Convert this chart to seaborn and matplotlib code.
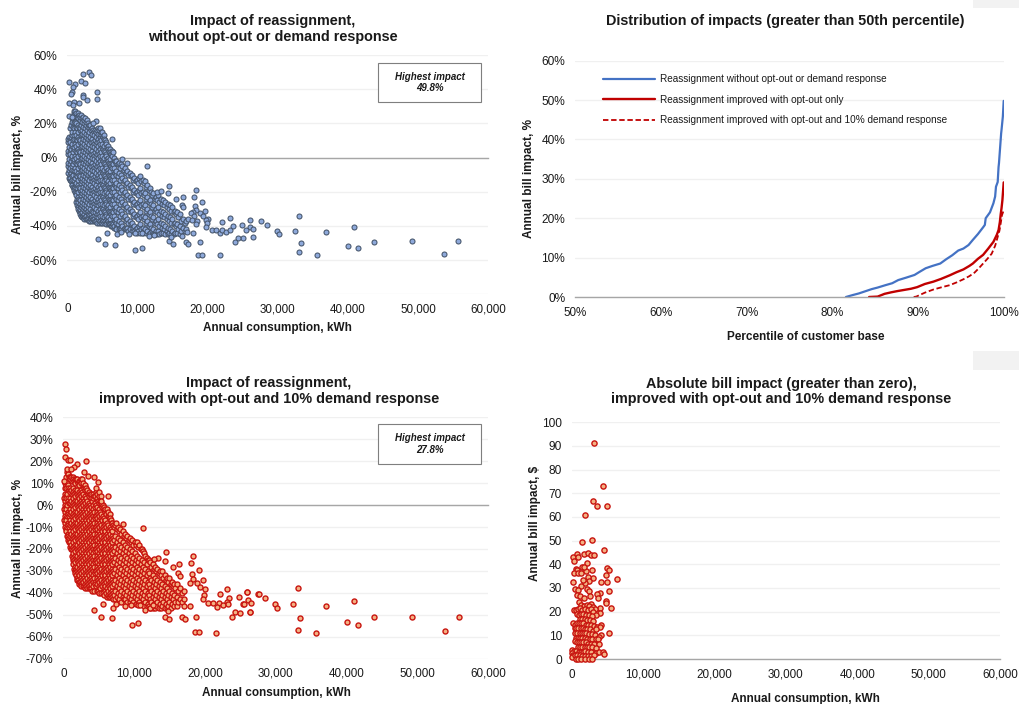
import pandas as pd
import matplotlib
matplotlib.use('Agg')
import matplotlib.pyplot as plt
from matplotlib.patches import Rectangle
import seaborn as sns

sns.set_style("white")
plt.rcParams['font.family'] = ['Liberation Sans', 'DejaVu Sans']

# --- DATA: consumption kWh, bill impact ---
# top left panel, scattered points
sparse_a = [(2290,49),(3100,49.8),(3380,48.3),(240,44.4),(2000,44.6),(2570,43.5),(1140,43.3),(810,41.3),(4290,38.2),(620,38.4),
(480,37.4),(2190,36.6),(2290,35.3),(2860,33.5),(4190,34.3),(290,32.2),(950,32.7),(1710,32.2),(860,31),(240,24.4),(620,23.8),
(4100,21.4),(3620,20.3),(6330,10.9),(7810,-1),(8570,-2.9),(11380,-5),(14570,-16.8),(12860,-20.3),(13430,-19.5),(14430,-20.7),
(15520,-24.2),(16430,-23),(18330,-18.7),(18100,-22.8),(19240,-26),(16290,-27.7),(16480,-29.2),(18240,-28.3),(19710,-31),
(18950,-32.2),(18380,-30.4),(17900,-31.6),(17620,-32.7),(18000,-33.9),(19290,-34.3),(20100,-35.7),(19810,-36.3),(17190,-35.9),
(17760,-36.6),(18480,-37),(18290,-39),(19900,-38.2),(19760,-40.5),(17900,-43.9),(17140,-43.7),(20570,-42.3),(21240,-42.3),
(21810,-44.4),(22100,-37.8),(22050,-42.1),(22570,-43.7),(23140,-42.1),(23620,-40.2),(23140,-35.1),(24860,-39.3),(26050,-36.5),
(27670,-37.1),(28480,-39.3),(26100,-40.7),(25500,-42.4),(26520,-41.9),(29950,-43),(30240,-44.8),(25100,-47),(26430,-46.2),
(24330,-47),(23950,-49.5),(33100,-34.2),(32480,-42.8),(33380,-49.7),(33100,-55.4),(35660,-57.2),(36950,-43.4),(40000,-51.9),
(40950,-40.9),(41470,-53.1),(43800,-49.3),(49140,-48.7),(53750,-56.2),(55700,-48.7),(4380,-47.4),(5330,-50.5),(5620,-43.9),
(6810,-50.9),(7050,-45),(7620,-43.5),(8860,-44.8),(9620,-53.8),(10710,-52.8),(9670,-44),(10620,-44),(11710,-46),(12380,-45.4),
(14480,-49.1),(15050,-50.3),(14860,-46.4),(16330,-46),(16860,-49.3),(17240,-50.5),(18860,-49.5),(18620,-57.3),(19140,-57.1),
(21710,-57.3)]

# top left panel, dense cloud: consumption, then the impacts seen around it
cloud_a = [(80,[9,2,-5]),(170,[11,4,-3,-9]),(260,[12,6,-1,-7,-12]),(360,[10,3,-4,-10,-13]),(450,[17,9,2,-6,-12]),
(540,[19,12,5,-2,-9,-14]),(640,[21,13,7,0,-7,-13,-16]),(730,[23,15,8,1,-5,-11,-16]),(820,[24,18,10,3,-4,-10,-17]),
(920,[26,17,11,5,-2,-8,-14,-18]),(1010,[27,20,13,6,-1,-7,-13,-19]),(1110,[27,21,15,8,1,-6,-12,-17,-20]),
(1200,[25,18,11,4,-3,-10,-16,-21]),(1300,[26,20,13,7,0,-8,-15,-22,-26]),(1400,[24,17,10,3,-4,-11,-18,-24,-28]),
(1490,[26,19,12,5,-2,-9,-16,-23,-29]),(1590,[23,15,8,1,-6,-13,-20,-26,-30]),(1680,[25,18,11,4,-3,-10,-17,-24,-31]),
(1780,[22,16,9,2,-5,-12,-19,-27,-32]),(1870,[24,17,10,3,-4,-11,-18,-25,-30,-33]),(1970,[25,19,13,6,-1,-8,-15,-22,-29,-34]),
(2060,[21,14,7,0,-7,-14,-21,-28,-33]),(2160,[23,16,9,2,-5,-12,-19,-26,-32,-35]),(2250,[24,18,11,4,-3,-10,-17,-24,-30,-34]),
(2350,[20,13,6,-1,-8,-15,-22,-29,-35]),(2440,[22,15,8,1,-6,-13,-20,-27,-33,-36]),(2540,[23,17,10,3,-4,-11,-18,-25,-31,-35]),
(2630,[19,12,5,-2,-9,-16,-23,-30,-36]),(2730,[21,14,7,0,-7,-14,-21,-28,-34]),(2820,[22,16,9,2,-5,-12,-19,-26,-32,-36]),
(2920,[18,11,4,-3,-10,-17,-24,-31,-35]),(3010,[20,13,6,-1,-8,-15,-22,-29,-36]),(3110,[19,15,8,1,-6,-13,-20,-27,-33,-37]),
(3200,[17,10,3,-4,-11,-18,-25,-32,-36]),(3300,[19,12,5,-2,-9,-16,-23,-30,-37]),(3400,[16,9,2,-5,-12,-19,-26,-33,-36]),
(3490,[17,11,4,-3,-10,-17,-24,-31,-37]),(3590,[14,7,0,-7,-14,-21,-28,-35]),(3680,[16,9,2,-5,-12,-19,-26,-32,-36]),
(3780,[15,8,1,-6,-13,-20,-27,-34,-37]),(3870,[13,6,-1,-8,-15,-22,-29,-36]),(3970,[16,10,3,-4,-11,-18,-25,-32,-37]),
(4060,[15,8,1,-6,-13,-20,-27,-34]),(4160,[12,5,-2,-9,-16,-23,-30,-37]),(4250,[16,9,2,-5,-12,-19,-26,-33,-38]),
(4350,[17,11,4,-3,-10,-17,-24,-31,-36]),(4440,[14,7,0,-7,-14,-21,-28,-35]),(4540,[16,9,2,-5,-12,-19,-26,-33,-38]),
(4630,[17,12,5,-2,-9,-16,-23,-30,-37]),(4730,[14,8,1,-6,-13,-20,-27,-34]),(4820,[15,10,3,-4,-11,-18,-25,-32,-38]),
(4920,[13,6,-1,-8,-15,-22,-29,-36]),(5010,[15,8,1,-6,-13,-20,-27,-34,-38]),(5110,[12,5,-2,-9,-16,-23,-30,-37]),
(5200,[13,7,0,-7,-14,-21,-28,-35]),(5300,[11,4,-3,-10,-17,-24,-31,-38]),(5390,[10,3,-4,-11,-18,-25,-32,-37]),
(5490,[9,2,-5,-12,-19,-26,-33,-38]),(5580,[8,1,-6,-13,-20,-27,-34,-39]),(5680,[6,-1,-8,-15,-22,-29,-36]),
(5770,[7,0,-7,-14,-21,-28,-35,-39]),(5870,[5,-2,-9,-16,-23,-30,-37]),(5960,[4,-3,-10,-17,-24,-31,-38]),
(6060,[5,-1,-8,-15,-22,-29,-36,-39]),(6150,[3,-4,-11,-18,-25,-32,-39]),(6250,[2,-5,-12,-19,-26,-33,-40]),
(6340,[4,-3,-10,-17,-24,-31,-38]),(6440,[1,-6,-13,-20,-27,-34,-40]),(6530,[3,-4,-11,-18,-25,-32,-39]),
(6630,[-1,-8,-15,-22,-29,-36,-41]),(6720,[0,-6,-13,-20,-27,-34,-40]),(6820,[-2,-9,-16,-23,-30,-37]),
(6910,[-3,-10,-17,-24,-31,-38,-41]),(7010,[-2,-8,-15,-22,-29,-36,-42]),(7180,[-4,-11,-18,-25,-32,-39]),
(7350,[-3,-9,-16,-23,-30,-37,-42]),(7520,[-6,-13,-20,-27,-34,-41]),(7690,[-4,-10,-17,-24,-31,-38,-42]),
(7860,[-5,-12,-19,-26,-33,-40]),(8030,[-7,-14,-21,-28,-35,-42]),(8200,[-6,-13,-20,-27,-34,-41]),
(8370,[-9,-16,-23,-30,-37,-42]),(8540,[-8,-15,-22,-29,-36,-41]),(8710,[-10,-17,-24,-31,-38,-43]),
(8880,[-9,-16,-23,-30,-37,-42]),(9050,[-11,-18,-25,-32,-39]),(9220,[-10,-17,-24,-31,-38,-43]),
(9390,[-13,-20,-27,-34,-41]),(9560,[-12,-19,-26,-33,-40,-43]),(9730,[-14,-21,-28,-35,-42]),
(9900,[-13,-20,-27,-34,-41,-44]),(10070,[-15,-22,-29,-36,-43]),(10240,[-12,-19,-26,-33,-40]),
(10410,[-11,-18,-25,-32,-39,-44]),(10580,[-14,-21,-28,-35,-42]),(10750,[-13,-20,-27,-34,-41,-44]),
(10920,[-15,-22,-29,-36,-43]),(11090,[-14,-21,-28,-35,-42]),(11260,[-17,-24,-31,-38,-44]),
(11430,[-16,-23,-30,-37,-43]),(11600,[-19,-26,-33,-40,-45]),(11770,[-18,-25,-32,-39,-44]),
(11940,[-20,-27,-34,-41]),(12110,[-22,-29,-36,-43]),(12280,[-21,-28,-35,-42,-45]),
(12450,[-24,-31,-38,-45]),(12620,[-23,-30,-37,-43]),(12790,[-25,-32,-39,-45]),
(12960,[-22,-29,-36,-43]),(13130,[-26,-33,-40,-45]),(13300,[-24,-31,-38,-44]),
(13470,[-27,-34,-41]),(13640,[-25,-32,-39,-44]),(13810,[-28,-35,-42]),
(13980,[-26,-33,-40,-45]),(14150,[-29,-36,-43]),(14320,[-27,-34,-41,-45]),
(14490,[-30,-37,-44]),(14660,[-28,-35,-42]),(14830,[-31,-38,-45]),
(15000,[-29,-36,-43]),(15170,[-32,-39,-45]),(15340,[-31,-38,-44]),
(15510,[-33,-40]),(15680,[-32,-39,-44]),(15850,[-35,-42]),
(16020,[-33,-40,-45]),(16250,[-37,-43]),(16500,[-36,-41]),(16750,[-38,-43]),(17000,[-37,-42])]

# bottom left panel, scattered points
sparse_c = [(280,27.7),(330,25.5),(190,21.7),(700,20.5),(890,20.5),(3190,20.2),(1970,18.7),(1500,17.5),(470,16.6),(1030,16.6),
(2960,15.3),(3520,13.1),(4320,12.9),(4880,10.3),(30,11),(4550,7.8),(5000,5.9),(6340,4.3),(5350,4.1),(5260,1.8),(8500,-8.5),
(11310,-10.6),(7460,-8),(14460,-21.3),(18310,-23.1),(13380,-23.9),(12820,-24.5),(14320,-25.4),(17980,-26.6),(16340,-26.7),
(15490,-28.1),(19200,-29.8),(18120,-31.6),(16150,-31),(16480,-32.4),(19670,-34.2),(18310,-33.7),(17840,-35.7),(18830,-35.3),
(19250,-37.2),(23150,-38.1),(22070,-40.6),(25920,-39.7),(27460,-40.3),(20000,-38.4),(19810,-41),(19720,-42.9),(23470,-42.5),
(24880,-41.9),(26100,-43.3),(26480,-44.4),(25450,-45),(20470,-44.4),(21130,-44.5),(21970,-44.4),(23100,-44.1),(21690,-46.5),
(22540,-45.7),(23240,-45.3),(26340,-48.5),(24270,-48.9),(25020,-49.1),(23900,-51.1),(18730,-51.1),(21640,-58.2),(18590,-58),
(19110,-57.9),(16710,-50.8),(17180,-51.7),(17040,-46),(17890,-46),(14370,-50.8),(14980,-51.7),(14790,-48.2),(10610,-53.6),
(9670,-54.7),(4320,-47.9),(5350,-51),(6810,-51.5),(5630,-45.1),(7040,-46.7),(7460,-45.3),(8780,-46.2),(9620,-45.7),(10520,-45.7),
(10800,-45.7),(11600,-47.7),(12210,-46.8),(12680,-45.7),(26000,-39.8),(27670,-40.3),(28480,-42.2),(25520,-45),(29900,-45.3),
(30240,-47.1),(26380,-48.5),(33100,-37.7),(32520,-45.3),(33430,-51.5),(33100,-56.8),(35710,-58.2),(37050,-45.9),(40140,-53.5),
(41040,-43.8),(41600,-54.5),(43950,-51.2),(49330,-50.8),(53990,-57.5),(55940,-50.8)]

# bottom left panel, dense cloud
cloud_c = [(80,[3,-2,-7]),(170,[8,2,-3,-8]),(260,[10,5,0,-5,-10]),(360,[9,4,-1,-6,-11]),(450,[13,8,3,-2,-7,-12]),
(540,[15,10,5,0,-5,-10,-14]),(640,[14,9,3,-3,-8,-13]),(730,[14,8,2,-4,-9,-14,-16]),(820,[13,7,1,-5,-10,-15,-17]),
(920,[13,8,3,-2,-7,-12,-17]),(1010,[12,6,1,-4,-9,-14,-19]),(1110,[13,7,2,-3,-8,-13,-18,-20]),
(1200,[11,5,0,-5,-10,-15,-20,-23]),(1300,[13,8,3,-2,-7,-12,-17,-22,-25]),(1400,[12,6,1,-4,-9,-14,-19,-24,-27]),
(1490,[11,5,0,-5,-10,-15,-20,-25,-29]),(1590,[12,7,2,-3,-8,-13,-18,-23,-28,-30]),(1680,[10,4,-1,-6,-11,-16,-21,-26,-31]),
(1780,[12,6,1,-4,-9,-14,-19,-24,-29,-32]),(1870,[11,5,0,-5,-10,-15,-20,-25,-30,-33]),(1970,[12,7,2,-3,-8,-13,-18,-23,-28,-34]),
(2060,[10,4,-1,-6,-11,-16,-21,-26,-31,-34]),(2160,[11,6,1,-4,-9,-14,-19,-24,-29,-35]),(2250,[9,3,-2,-7,-12,-17,-22,-27,-32,-36]),
(2350,[11,5,0,-5,-10,-15,-20,-25,-30,-35]),(2440,[12,7,2,-3,-8,-13,-18,-23,-28,-33,-36]),(2540,[10,4,-1,-6,-11,-16,-21,-26,-31,-37]),
(2630,[12,6,1,-4,-9,-14,-19,-24,-29,-34]),(2730,[9,3,-2,-7,-12,-17,-22,-27,-32,-37]),(2820,[10,5,0,-5,-10,-15,-20,-25,-30,-35]),
(2920,[8,2,-3,-8,-13,-18,-23,-28,-33,-37]),(3010,[9,4,-1,-6,-11,-16,-21,-26,-31,-36]),(3110,[7,1,-4,-9,-14,-19,-24,-29,-34,-38]),
(3200,[8,3,-2,-7,-12,-17,-22,-27,-32,-37]),(3300,[6,0,-5,-10,-15,-20,-25,-30,-35]),(3400,[7,2,-3,-8,-13,-18,-23,-28,-33,-38]),
(3490,[5,-1,-6,-11,-16,-21,-26,-31,-36]),(3590,[6,1,-4,-9,-14,-19,-24,-29,-34,-38]),(3680,[4,-2,-7,-12,-17,-22,-27,-32,-37]),
(3780,[5,0,-5,-10,-15,-20,-25,-30,-35,-38]),(3870,[3,-3,-8,-13,-18,-23,-28,-33,-38]),(3970,[5,-1,-6,-11,-16,-21,-26,-31,-36]),
(4060,[2,-4,-9,-14,-19,-24,-29,-34,-39]),(4160,[5,0,-5,-10,-15,-20,-25,-30,-35]),(4250,[3,-2,-7,-12,-17,-22,-27,-32,-37]),
(4350,[4,-3,-8,-13,-18,-23,-28,-33,-39]),(4440,[1,-5,-10,-15,-20,-25,-30,-35]),(4540,[4,-1,-6,-11,-16,-21,-26,-31,-36]),
(4630,[6,0,-5,-10,-15,-20,-25,-30,-37]),(4730,[3,-3,-8,-13,-18,-23,-28,-33,-39]),(4820,[5,-1,-6,-11,-16,-21,-26,-31,-36]),
(4920,[2,-4,-9,-14,-19,-24,-29,-34,-39]),(5010,[4,-2,-7,-12,-17,-22,-27,-32,-37]),(5110,[1,-5,-10,-15,-20,-25,-30,-35,-40]),
(5200,[2,-3,-8,-13,-18,-23,-28,-33,-38]),(5300,[0,-6,-11,-16,-21,-26,-31,-36]),(5390,[1,-4,-9,-14,-19,-24,-29,-34,-40]),
(5490,[-1,-7,-12,-17,-22,-27,-32,-37]),(5580,[0,-5,-10,-15,-20,-25,-30,-35,-40]),(5680,[-2,-8,-13,-18,-23,-28,-33,-38]),
(5770,[-1,-6,-11,-16,-21,-26,-31,-36,-41]),(5870,[-3,-9,-14,-19,-24,-29,-34,-39]),(5960,[-2,-7,-12,-17,-22,-27,-32,-37]),
(6060,[-4,-10,-15,-20,-25,-30,-35,-40]),(6150,[-2,-8,-13,-18,-23,-28,-33,-38,-42]),(6250,[-5,-11,-16,-21,-26,-31,-36,-41]),
(6340,[-3,-9,-14,-19,-24,-29,-34,-39]),(6440,[-5,-12,-17,-22,-27,-32,-37,-42]),(6530,[-4,-10,-15,-20,-25,-30,-35,-40]),
(6630,[-6,-13,-18,-23,-28,-33,-38,-42]),(6720,[-7,-11,-16,-21,-26,-31,-36,-41]),(6820,[-8,-14,-19,-24,-29,-34,-39]),
(6910,[-8,-12,-17,-22,-27,-32,-37,-42]),(7010,[-9,-15,-20,-25,-30,-35,-40,-43]),(7180,[-10,-16,-21,-26,-31,-36,-41]),
(7350,[-9,-14,-19,-24,-29,-34,-39,-43]),(7520,[-11,-17,-22,-27,-32,-37,-42]),(7690,[-10,-15,-20,-25,-30,-35,-40,-44]),
(7860,[-12,-18,-23,-28,-33,-38,-43]),(8030,[-11,-16,-21,-26,-31,-36,-41]),(8200,[-13,-19,-24,-29,-34,-39,-44]),
(8370,[-12,-17,-22,-27,-32,-37,-42]),(8540,[-14,-20,-25,-30,-35,-40,-43]),(8710,[-13,-18,-23,-28,-33,-38,-43]),
(8880,[-15,-21,-26,-31,-36,-41]),(9050,[-14,-19,-24,-29,-34,-39,-44]),(9220,[-16,-22,-27,-32,-37,-42]),
(9390,[-15,-20,-25,-30,-35,-40,-44]),(9560,[-17,-23,-28,-33,-38,-43]),(9730,[-16,-21,-26,-31,-36,-41,-45]),
(9900,[-18,-24,-29,-34,-39,-44]),(10070,[-17,-22,-27,-32,-37,-42]),(10240,[-18,-25,-30,-35,-40,-45]),
(10410,[-17,-23,-28,-33,-38,-43]),(10580,[-19,-26,-31,-36,-41,-45]),(10750,[-18,-24,-29,-34,-39,-44]),
(10920,[-20,-27,-32,-37,-42]),(11090,[-20,-25,-30,-35,-40,-45]),(11260,[-21,-28,-33,-38,-43]),
(11430,[-22,-26,-31,-36,-41,-46]),(11600,[-23,-29,-34,-39,-44]),(11770,[-24,-27,-32,-37,-42,-46]),
(11940,[-25,-30,-35,-40,-45]),(12110,[-25,-31,-36,-41,-46]),(12280,[-26,-33,-38,-43,-47]),
(12450,[-28,-34,-39,-44]),(12620,[-27,-32,-37,-42,-47]),(12790,[-29,-35,-40,-45]),
(12960,[-28,-33,-38,-43,-47]),(13130,[-30,-36,-41,-46]),(13300,[-29,-34,-39,-44]),
(13470,[-31,-37,-42,-47]),(13640,[-30,-35,-40,-45]),(13810,[-32,-38,-43,-47]),
(13980,[-30,-36,-41,-46]),(14150,[-33,-39,-44]),(14320,[-32,-37,-42,-47]),
(14490,[-34,-40,-45]),(14660,[-33,-38,-43,-47]),(14830,[-35,-41,-46]),
(15000,[-33,-39,-44]),(15170,[-36,-42,-47]),(15340,[-35,-40,-45]),
(15510,[-37,-43]),(15680,[-36,-41,-46]),(15850,[-38,-44]),
(16020,[-36,-42,-46]),(16250,[-39,-44]),(16500,[-38,-43]),(16750,[-40,-44]),(17000,[-39,-43])]

# bottom right panel, dollars
points_d = [(3180,91.1),(4350,73),(3040,66.8),(3600,64.8),(4910,64.8),(1920,60.8),(1500,49.4),(2900,50.1),(4530,46),(230,43),
(330,41.5),(800,44.2),(840,43.2),(1730,44.2),(2290,44.6),(2760,43.8),(3080,43.9),(2100,40.6),(5000,38.3),(5280,37.5),(2900,37.5),
(2000,37.3),(560,38.2),(700,37.6),(1400,38.7),(1730,39),(370,36.2),(930,36.2),(1310,36.2),(4770,35.3),(6360,33.7),(190,32.5),
(4160,32.4),(5000,32.5),(3040,34.2),(2240,34.8),(2480,32.8),(1870,32),(1640,33.4),(1260,30.8),(470,29.4),(930,29.2),(2200,29.4),
(2380,28.9),(5190,28.6),(3970,27.9),(3500,27.6),(800,27),(1170,26.6),(2570,26.8),(3690,25.8),(1730,25.6),(4810,24.6),(4860,23.8),
(2710,23.1),(5470,21.7),(4020,21.4),(330,20.7),(3970,19.3),(5230,11),(1000,24),(1350,23),(1700,22.5),(2100,23),(2400,22.5),
(3000,22),(3250,21),(600,20.5),(850,21),(1150,21.5),(1500,20.5),(1900,21),(2250,20.5),(2650,21),(2950,20),(3400,18.5),(750,19),
(1000,18.5),(1300,19),(1650,19),(2000,18.5),(2400,18.5),(2800,18),(1100,17),(1450,17),(1800,17),(2150,16.5),(2550,16.5),(3000,16),
(230,15),(520,14.5),(800,15),(1050,15),(1350,15),(1650,15),(1950,14.5),(2300,14.5),(2700,14.5),(3100,14),(3550,13.5),(4150,14.3),
(3900,13.5),(400,13),(650,13),(950,13),(1250,13),(1550,13),(1850,12.5),(2200,12.5),(2600,12.5),(3000,12),(3400,12.5),(500,11),
(800,11),(1100,11),(1400,11),(1700,11),(2050,11),(2400,10.5),(2800,10.5),(3200,10),(4050,10),(3850,9.5),(600,9),(900,9),(1200,9),
(1500,9),(1800,9),(2150,8.5),(2500,8.5),(2900,8.5),(3350,8.5),(3750,8.5),(450,7.5),(750,7),(1050,7),(1350,7),(1650,7),(1950,7),
(2300,6.5),(2700,6.5),(3100,6.5),(3800,6.5),(900,5),(1200,5),(1500,5),(1800,5),(2100,5),(2450,5),(2850,5),(3350,4.5),(100,4),
(350,3.5),(650,3.5),(1000,3),(1300,3),(1600,3),(1900,3.5),(2250,3),(2650,3),(3350,2.5),(3800,3),(4350,3),(4500,2),(50,2.5),(150,1.5),
(100,0.8),(450,1.5),(800,1.5),(1150,1.5),(1500,1.2),(1900,1.2),(2300,1.2),(2700,1.2),(3100,1.5),(550,0.2),(900,0.2),(1300,0.2),(1800,0.2),(2400,0.1),(2850,0.1)]

# top right panel, percentile vs impact
blue_pct = [81.6,82.4,83.1,84.6,85.3,86.2,87.0,87.7,88.6,89.6,90.2,90.9,91.7,92.6,93.3,94.0,94.7,95.3,95.9,96.4,97.0,97.6,97.8,97.9,98.4,98.8,99.0,99.1,99.3,99.4,99.45,99.7,99.75,99.9,100]
blue_val = [0,0.5,0.9,2,2.4,3,3.5,4.3,4.9,5.6,6.4,7.3,7.9,8.5,9.6,10.6,11.8,12.3,13.2,14.5,16,17.7,18.3,20,21.5,23.8,25.5,28,29.2,33,34,41.5,42.5,45.8,49.8]
red_pct = [84.3,85.3,86.1,86.9,87.6,88.4,89.2,89.9,90.8,91.8,92.7,93.7,94.5,95.3,96.0,96.4,97.0,97.6,98.2,98.8,99.2,99.4,99.55,99.65,99.75,99.85,100]
red_val = [0,0.1,0.8,1.2,1.5,1.8,2.1,2.5,3.3,3.9,4.6,5.5,6.3,7,7.9,8.5,9.7,10.7,12.3,14,15.8,17,19,21,22.6,24.6,29.1]
dash_pct = [89.5,89.8,90.8,91.8,92.8,93.7,94.5,95.3,96.0,96.6,97.1,97.6,98.1,98.6,99.0,99.2,99.5,99.6,99.8,100]
dash_val = [0,0.1,1.1,1.9,2.5,3,3.7,4.5,5.3,6.2,7.3,8.5,9.7,11,13,14.5,16.8,18,20.8,22]
legend_names = ['Reassignment without opt-out or demand response', 'Reassignment improved with opt-out only',
                'Reassignment improved with opt-out and 10% demand response']

W, H = 1019, 704
GRID = '#F0F0F0'
AXIS = '#A6A6A6'
TXT = '#1A1A1A'

fig = plt.figure(figsize=(W / 100, H / 100), dpi=100)


def make_axes(l, r, t, b):
    # positions given in image pixels
    return fig.add_axes([l / W, 1 - b / H, (r - l) / W, (b - t) / H])


def style_axes(ax, xticks, yticks, xfmt, yfmt, pad, zero_line):
    ax.set_xticks(xticks)
    ax.set_yticks(yticks)
    ax.set_xticklabels([xfmt(v) for v in xticks])
    ax.set_yticklabels([yfmt(v) for v in yticks])
    ax.set_xlim(xticks[0], xticks[-1])
    ax.set_ylim(yticks[0], yticks[-1])
    ax.grid(axis='y', color=GRID, lw=1)
    ax.set_axisbelow(True)
    for side in ['top', 'left', 'right']:
        ax.spines[side].set_visible(False)
    ax.spines['bottom'].set_color(AXIS)
    ax.spines['bottom'].set_linewidth(1)
    if zero_line:
        ax.spines['bottom'].set_position(('data', 0))
    ax.tick_params(axis='x', direction='out', length=3, width=0.8, color=AXIS, pad=pad, labelsize=8.4, labelcolor=TXT)
    ax.tick_params(axis='y', length=0, pad=7, labelsize=8.6, labelcolor=TXT)


def set_labels(ax, xlabel, ylabel, xpos, ypos, box):
    l, r, t, b = box
    ax.set_xlabel(xlabel, fontsize=8.5, fontweight='bold', color=TXT, va='center')
    ax.set_ylabel(ylabel, fontsize=8.5, fontweight='bold', color=TXT, va='center')
    ax.xaxis.set_label_coords((xpos[0] - l) / (r - l), (b - xpos[1]) / (b - t))
    ax.yaxis.set_label_coords((ypos[0] - l) / (r - l), (b - ypos[1]) / (b - t))


def scatter(ax, pairs, fill, edge, size, width):
    frame = pd.DataFrame(pairs, columns=['kwh', 'impact'])
    sns.scatterplot(data=frame, x='kwh', y='impact', ax=ax, s=size, color=fill, edgecolor=edge,
                    linewidth=width, clip_on=False, zorder=3)


def expand(columns):
    # one (kwh, impact) pair per point of a cloud column
    return [(kwh, v) for kwh, values in columns for v in values]


def highest_box(l, t, r, b, text):
    fig.patches.append(Rectangle((l / W, 1 - b / H), (r - l) / W, (b - t) / H, transform=fig.transFigure,
                                 facecolor='white', edgecolor='#7F7F7F', lw=0.8, zorder=5, figure=fig))
    fig.text((l + r) / 2 / W, 1 - (t + b) / 2 / H, text, ha='center', va='center', fontsize=7,
             fontweight='bold', fontstyle='italic', color=TXT, linespacing=1.2, zorder=6)


pct = lambda v: f'{v:.0f}%'
plain = lambda v: f'{v:.0f}'
comma = lambda v: f'{v:,.0f}'
kwh_ticks = [0, 10000, 20000, 30000, 40000, 50000, 60000]

# --- top left ---
box_a = (67.3, 488, 55, 294.3)
ax_a = make_axes(*box_a)
scatter(ax_a, expand(cloud_a) + sparse_a, '#8EA9DB', '#44546A', 13, 0.75)
style_axes(ax_a, kwh_ticks, [-80, -60, -40, -20, 0, 20, 40, 60], comma, pct, 102, True)
set_labels(ax_a, 'Annual consumption, kWh', 'Annual bill impact, %', (277, 328), (18, 175), box_a)

# --- top right ---
box_b = (575, 1003.7, 60.7, 297)
ax_b = make_axes(*box_b)
sns.lineplot(x=blue_pct, y=blue_val, ax=ax_b, color='#4472C4', lw=1.6, label=legend_names[0], errorbar=None, estimator=None)
sns.lineplot(x=red_pct, y=red_val, ax=ax_b, color='#C00000', lw=1.7, label=legend_names[1], errorbar=None, estimator=None)
sns.lineplot(x=dash_pct, y=dash_val, ax=ax_b, color='#C00000', lw=1.3, ls=(0, (3, 1.5)), label=legend_names[2], errorbar=None, estimator=None)
style_axes(ax_b, [50, 60, 70, 80, 90, 100], [0, 10, 20, 30, 40, 50, 60], pct, pct, 4, False)
set_labels(ax_b, 'Percentile of customer base', 'Annual bill impact, %', (806, 337), (529, 179), box_b)
ax_b.legend(loc='upper left', bbox_to_anchor=(0.065, 0.943), frameon=False, fontsize=7.2, handlelength=5.2,
            handletextpad=0.55, labelspacing=1.05, borderpad=0, borderaxespad=0, labelcolor=TXT)

# --- bottom left ---
box_c = (63.3, 488, 417.3, 658.7)
ax_c = make_axes(*box_c)
scatter(ax_c, expand(cloud_c) + sparse_c, '#F4B183', '#C8140F', 13, 1.0)
style_axes(ax_c, kwh_ticks, [-70, -60, -50, -40, -30, -20, -10, 0, 10, 20, 30, 40], comma, pct, 114, True)
set_labels(ax_c, 'Annual consumption, kWh', 'Annual bill impact, %', (276, 693), (18, 538), box_c)

# --- bottom right ---
box_d = (571.7, 1000, 422.3, 659)
ax_d = make_axes(*box_d)
scatter(ax_d, points_d, '#F4B183', '#C8140F', 14, 1.0)
style_axes(ax_d, kwh_ticks, [0, 10, 20, 30, 40, 50, 60, 70, 80, 90, 100], comma, plain, 4, False)
set_labels(ax_d, 'Annual consumption, kWh', 'Annual bill impact, $', (805, 699), (535, 523), box_d)

highest_box(378, 63, 481, 102, 'Highest impact\n49.8%')
highest_box(378, 424, 481, 464, 'Highest impact\n27.8%')

# two pale blocks on the right edge
for top, bottom in [(0, 8), (351, 370)]:
    fig.patches.append(Rectangle((973 / W, 1 - bottom / H), 46 / W, (bottom - top) / H, transform=fig.transFigure,
                                 facecolor='#F2F2F2', edgecolor='none', figure=fig))

# titles
title_lines = [('Impact of reassignment,', 273, 20.5), ('without opt-out or demand response', 273, 37.5),
               ('Distribution of impacts (greater than 50th percentile)', 785, 20.5),
               ('Impact of reassignment,', 269, 383), ('improved with opt-out and 10% demand response', 269, 399),
               ('Absolute bill impact (greater than zero),', 781, 383.5), ('improved with opt-out and 10% demand response', 781, 399.5)]
for line, x, y in title_lines:
    fig.text(x / W, 1 - y / H, line, ha='center', va='center', fontsize=10.4, fontweight='bold', color=TXT)

plt.savefig('out.png', dpi=100)
